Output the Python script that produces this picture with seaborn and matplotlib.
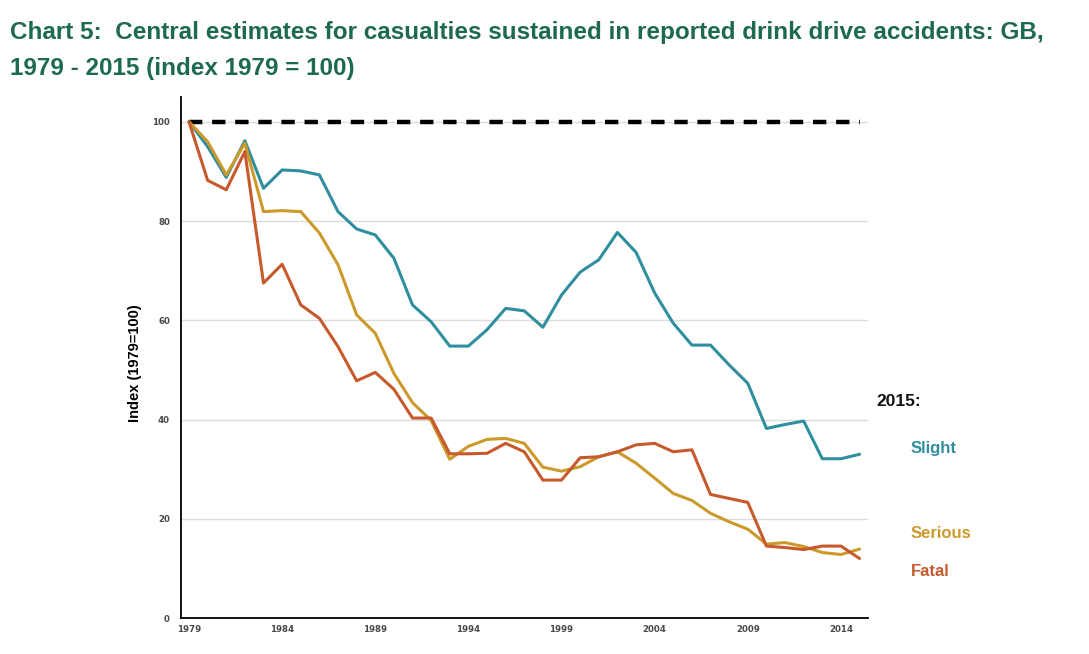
import numpy as np
import pandas as pd
import matplotlib
matplotlib.use("Agg")
import matplotlib.pyplot as plt
import seaborn as sns

sns.set_theme(style="white")
plt.rcParams["font.family"] = ["Liberation Sans", "DejaVu Sans"]

years = list(range(1979, 2016))
slight = [100, 95.0, 88.8, 96.2, 86.6, 90.3, 90.1, 89.3, 81.9, 78.4,
          77.2, 72.5, 63.1, 59.7, 54.8, 54.8, 58.1, 62.4, 61.9, 58.6,
          65.1, 69.7, 72.2, 77.7, 73.7, 65.5, 59.4, 55.0, 55.0, 51.0,
          47.3, 38.2, 39.0, 39.7, 32.1, 32.1, 33.0]
serious = [100, 96.0, 89.3, 95.7, 81.9, 82.1, 81.9, 77.6, 71.2, 61.1,
           57.4, 49.3, 43.4, 39.8, 32.0, 34.6, 36.0, 36.2, 35.2, 30.4,
           29.6, 30.5, 32.5, 33.5, 31.2, 28.2, 25.1, 23.7, 21.1, 19.4,
           17.9, 14.9, 15.2, 14.4, 13.2, 12.8, 13.9]
fatal = [100, 88.2, 86.3, 94.0, 67.5, 71.3, 63.1, 60.4, 54.7, 47.8,
         49.5, 46.1, 40.3, 40.3, 33.1, 33.1, 33.2, 35.2, 33.5, 27.8,
         27.8, 32.3, 32.5, 33.5, 34.9, 35.2, 33.5, 33.9, 24.9, 24.1,
         23.3, 14.5, 14.2, 13.8, 14.5, 14.5, 12.0]
series_names = ["Slight", "Serious", "Fatal"]
colors = {"Slight": "#2f8f9f", "Serious": "#cc9a2b", "Fatal": "#c65a2c"}

df = pd.DataFrame({
    "Year": years * 3,
    "Index": slight + serious + fatal,
    "Type": [n for n in series_names for _ in years],
})

fig = plt.figure(figsize=(10.89, 6.54), dpi=100)
ax = fig.add_axes([0.1662, 0.055, 0.797 - 0.1662, 0.8517 - 0.055])

ax.set_yticks([0, 20, 40, 60, 80, 100])
ax.yaxis.grid(True, color="#dcdcdc", lw=1)
ax.set_axisbelow(True)

# baseline at 100
ax.hlines(100, years[0], years[-1], colors="black", linestyles=(0, (3, 2.2)), lw=3.2, zorder=3)

sns.lineplot(data=df, x="Year", y="Index", hue="Type", palette=colors,
             hue_order=series_names, lw=2.2, legend=False, ax=ax, zorder=4)

ax.set_xlim(1978.57, 2015.45)
ax.set_ylim(0, 105)
ax.set_xticks(list(range(1979, 2015, 5)))
for lbl in ax.get_xticklabels() + ax.get_yticklabels():
    lbl.set_family("DejaVu Sans")
    lbl.set_fontsize(6.2)
    lbl.set_fontweight("bold")
    lbl.set_color("#4a4a4a")
ax.tick_params(axis="y", length=0, pad=8)
ax.tick_params(axis="x", length=0, pad=5)

ax.set_xlabel("")
ax.set_ylabel("Index (1979=100)", fontsize=10.5, fontweight="bold", color="black")
ax.yaxis.set_label_coords(-0.057, 0.49)

sns.despine(ax=ax)
for side in ["left", "bottom"]:
    ax.spines[side].set_color("black")
    ax.spines[side].set_linewidth(1.3)

# right-hand labels
fig.text(876 / 1089, 1 - 402 / 654, "2015:", fontsize=12.5, fontweight="bold",
         color="#111111", va="center", ha="left")
for name, ypix in zip(series_names, [449, 533, 571]):
    fig.text(911 / 1089, 1 - ypix / 654, name, fontsize=12, fontweight="bold",
             color=colors[name], va="center", ha="left")

title_color = "#1d6a4f"
fig.text(10 / 1089, 1 - 33 / 654,
         "Chart 5:  Central estimates for casualties sustained in reported drink drive accidents: GB,",
         fontsize=17.5, fontweight="bold", color=title_color, va="center", ha="left")
fig.text(10 / 1089, 1 - 68 / 654, "1979 - 2015 (index 1979 = 100)",
         fontsize=17.5, fontweight="bold", color=title_color, va="center", ha="left")

fig.savefig("out.png", dpi=100)
plt.close(fig)
